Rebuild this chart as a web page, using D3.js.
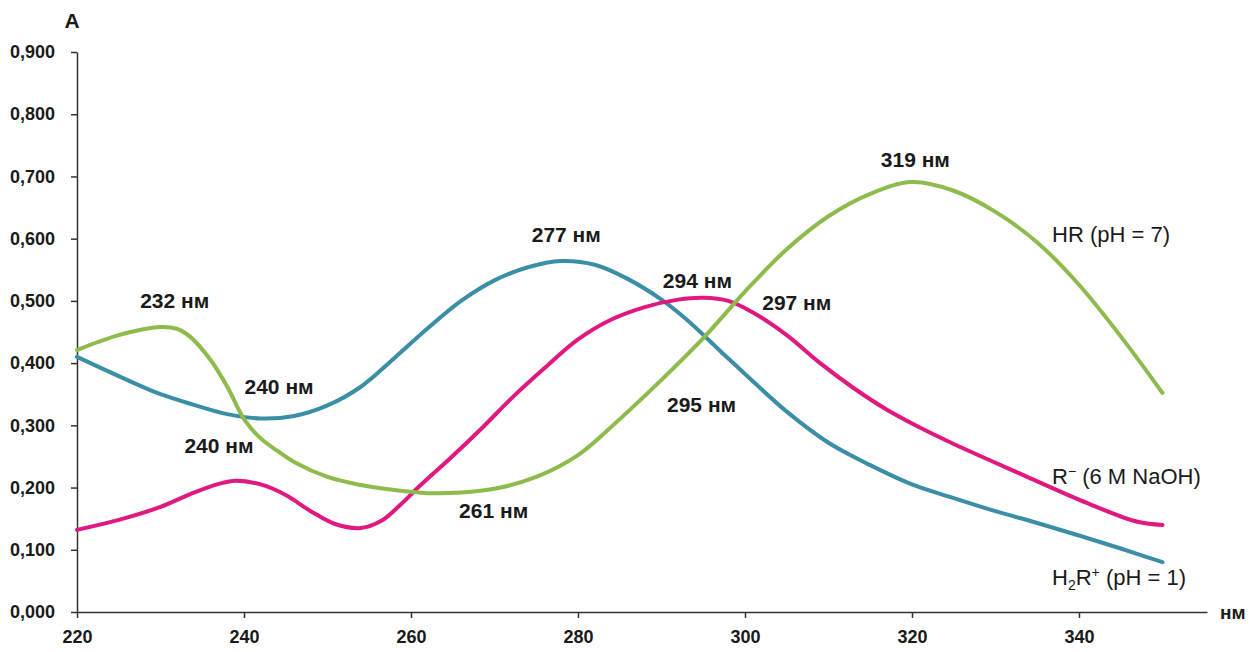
<!DOCTYPE html>
<html>
<head>
<meta charset="utf-8">
<script src="https://cdn.jsdelivr.net/npm/d3@7"></script>
<style>
  body { margin: 0; background: #fff; }
  svg { display: block; font-family: "Liberation Sans", Arial, sans-serif; }
</style>
</head>
<body>
<div id="chart"></div>
<script>
// Absorption spectra, wavelength (nm) vs absorbance A
const xTicks = [220, 240, 260, 280, 300, 320, 340];
const yTicks = [0, 0.1, 0.2, 0.3, 0.4, 0.5, 0.6, 0.7, 0.8, 0.9];

// HR (pH = 7)
const hrNm = [220, 225, 230, 232, 233.5, 236, 238, 240, 242, 244, 246, 250, 254, 258, 262, 266, 270, 275, 280, 285, 290, 295, 300, 305, 310, 315, 320, 325, 330, 335, 340, 345, 350];
const hrA = [0.421, 0.445, 0.458, 0.455, 0.443, 0.405, 0.362, 0.310, 0.279, 0.259, 0.241, 0.217, 0.204, 0.196, 0.191, 0.192, 0.198, 0.217, 0.252, 0.310, 0.373, 0.440, 0.515, 0.583, 0.636, 0.672, 0.691, 0.677, 0.643, 0.594, 0.526, 0.443, 0.352];

// H2R+ (pH = 1)
const h2rNm = [220, 226, 230, 234, 238, 242, 246, 250, 254, 258, 262, 266, 270, 274, 278, 282, 286, 290, 293, 297, 301, 305, 310, 315, 320, 325, 330, 335, 340, 345, 350];
const h2rA = [0.410, 0.373, 0.350, 0.333, 0.318, 0.311, 0.315, 0.332, 0.362, 0.408, 0.456, 0.500, 0.533, 0.554, 0.564, 0.558, 0.535, 0.502, 0.470, 0.420, 0.370, 0.322, 0.272, 0.236, 0.205, 0.183, 0.162, 0.143, 0.123, 0.102, 0.080];

// R- (6 M NaOH)
const rNm = [220, 225, 230, 234, 237, 239, 242, 245, 248, 251, 254, 256.5, 258.7, 261, 264.7, 268.6, 272, 276, 280, 284, 288, 292, 295, 298, 301, 305, 309, 313, 317, 321, 325, 333, 341, 347, 350];
const rA = [0.132, 0.148, 0.169, 0.192, 0.206, 0.211, 0.205, 0.188, 0.162, 0.141, 0.135, 0.147, 0.172, 0.202, 0.247, 0.297, 0.343, 0.392, 0.438, 0.470, 0.490, 0.502, 0.505, 0.500, 0.481, 0.445, 0.400, 0.360, 0.325, 0.296, 0.270, 0.222, 0.175, 0.145, 0.140];

// peak labels and where they sit (nm, A)
const peakText = ["232 нм", "240 нм", "240 нм", "277 нм", "294 нм", "297 нм", "295 нм", "261 нм", "319 нм"];
const peakNm = [231.7, 244.2, 237.0, 278.6, 294.3, 306.2, 294.8, 269.9, 320.4];
const peakA = [0.500, 0.362, 0.267, 0.607, 0.533, 0.498, 0.333, 0.164, 0.728];

const width = 1258, height = 652;
const margin = { top: 52, right: 51, bottom: 40, left: 77 };

const svg = d3.select("#chart").append("svg")
  .attr("width", width)
  .attr("height", height);

const x = d3.scaleLinear().domain([220, 355.33]).range([margin.left, width - margin.right]);
const y = d3.scaleLinear().domain([0, 0.9]).range([height - margin.bottom, margin.top]);

// axes
const xAxis = svg.append("g")
  .attr("transform", `translate(0, ${y(0)})`)
  .call(d3.axisBottom(x).tickValues(xTicks).tickSize(6).tickSizeOuter(0).tickPadding(12).tickFormat(d3.format("d")));

const yAxis = svg.append("g")
  .attr("transform", `translate(${x(220)}, 0)`)
  .call(d3.axisLeft(y).tickValues(yTicks).tickSize(6).tickSizeOuter(0).tickPadding(16)
    .tickFormat((d) => d3.format(".3f")(d).replace(".", ",")));

[xAxis, yAxis].forEach((g) => {
  g.select(".domain").attr("stroke", "#333").attr("stroke-width", 1.5);
  g.selectAll(".tick line").attr("stroke", "#333").attr("stroke-width", 1.5);
  g.selectAll(".tick text")
    .attr("fill", "#1a1a1a")
    .style("font-size", "18px")
    .style("font-weight", "bold")
    .style("font-family", "'Liberation Sans', Arial, sans-serif");
});

// axis titles
svg.append("text")
  .attr("x", 72).attr("y", 28)
  .attr("text-anchor", "middle")
  .attr("fill", "#1a1a1a")
  .style("font-size", "21px").style("font-weight", "bold")
  .text("A");

svg.append("text")
  .attr("x", 1220).attr("y", y(0) + 7)
  .attr("fill", "#1a1a1a")
  .style("font-size", "19px").style("font-weight", "bold")
  .text("нм");

// spectra
const series = [
  { nm: h2rNm, a: h2rA, color: "#3a8ea6" },
  { nm: rNm, a: rA, color: "#e0187f" },
  { nm: hrNm, a: hrA, color: "#8dbb4c" },
];

const line = d3.line()
  .x((d) => x(d[0]))
  .y((d) => y(d[1]))
  .curve(d3.curveCatmullRom.alpha(0.5));

svg.selectAll(".spectrum")
  .data(series)
  .join("path")
  .attr("class", "spectrum")
  .attr("d", (s) => line(s.nm.map((v, i) => [v, s.a[i]])))
  .attr("fill", "none")
  .attr("stroke", (s) => s.color)
  .attr("stroke-width", 4)
  .attr("stroke-linecap", "round")
  .attr("stroke-linejoin", "round");

// peak labels
svg.selectAll(".peak")
  .data(peakText)
  .join("text")
  .attr("class", "peak")
  .attr("x", (d, i) => x(peakNm[i]))
  .attr("y", (d, i) => y(peakA[i]))
  .attr("dy", "0.36em")
  .attr("text-anchor", "middle")
  .attr("fill", "#1a1a1a")
  .style("font-size", "21px")
  .style("font-weight", "bold")
  .text((d) => d);

// series labels
const labelX = 1052;
svg.append("text")
  .attr("x", labelX).attr("y", 242)
  .attr("fill", "#1a1a1a").style("font-size", "22px")
  .text("HR (pH = 7)");

const lab2 = svg.append("text")
  .attr("x", labelX).attr("y", 484)
  .attr("fill", "#1a1a1a").style("font-size", "22px");
lab2.append("tspan").text("R");
lab2.append("tspan").attr("dy", -8).style("font-size", "14px").text("−");
lab2.append("tspan").attr("dy", 8).text(" (6 M NaOH)");

const lab3 = svg.append("text")
  .attr("x", labelX).attr("y", 585)
  .attr("fill", "#1a1a1a").style("font-size", "22px");
lab3.append("tspan").text("H");
lab3.append("tspan").attr("dy", 5).style("font-size", "14px").text("2");
lab3.append("tspan").attr("dy", -5).text("R");
lab3.append("tspan").attr("dy", -8).style("font-size", "14px").text("+");
lab3.append("tspan").attr("dy", 8).text(" (pH = 1)");
</script>
</body>
</html>
